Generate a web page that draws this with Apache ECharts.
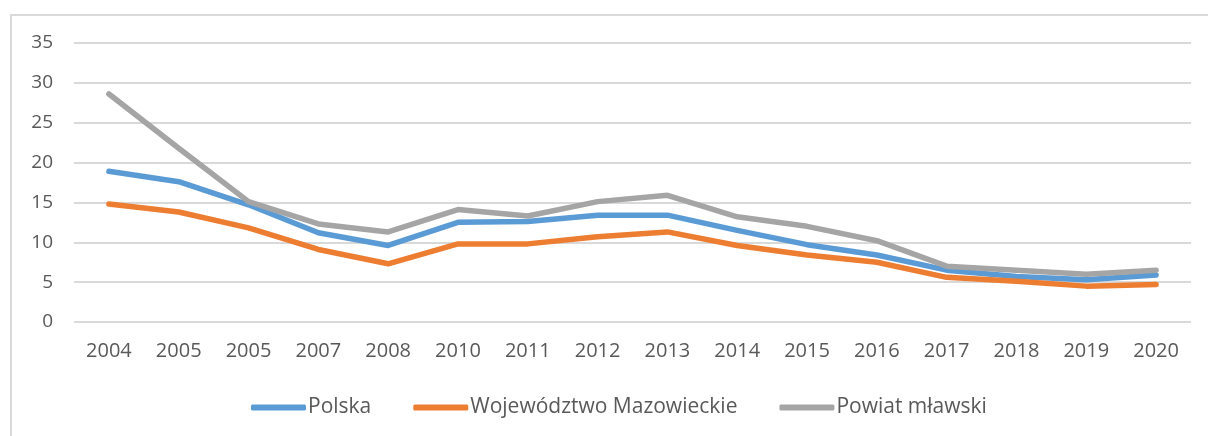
<!DOCTYPE html>
<html>
<head>
<meta charset="utf-8">
<script src="https://cdn.jsdelivr.net/npm/echarts@6/dist/echarts.min.js"></script>
<style>
  html, body { margin: 0; padding: 0; background: #fff; }
  #frame {
    position: absolute;
    left: 10px;
    top: 14px;
    width: 1220px;
    height: 440px;
    border: 2px solid #d9d9d9;
    box-sizing: border-box;
  }
  #chart { position: absolute; left: 0; top: 0; width: 1208px; height: 436px; }
</style>
</head>
<body>
<div id="frame"></div>
<div id="chart"></div>
<script>
// lata (etykiety osi X - tak jak w oryginale, z powtórzonym 2005)
const years = ['2004', '2005', '2005', '2007', '2008', '2010', '2011', '2012', '2013', '2014', '2015', '2016', '2017', '2018', '2019', '2020']

const polska = [18.9, 17.6, 14.7, 11.2, 9.6, 12.5, 12.6, 13.4, 13.4, 11.5, 9.7, 8.4, 6.5, 5.7, 5.3, 5.9]
const mazowieckie = [14.8, 13.8, 11.8, 9.1, 7.3, 9.8, 9.8, 10.7, 11.3, 9.6, 8.4, 7.5, 5.6, 5.1, 4.5, 4.7]
const mlawski = [28.6, 21.8, 15.1, 12.3, 11.3, 14.1, 13.3, 15.1, 15.9, 13.2, 12.0, 10.2, 7.0, 6.5, 6.0, 6.5]

const seriesNames = ['Polska', 'Województwo Mazowieckie', 'Powiat mławski']
const colors = ['#5b9bd5', '#ed7d31', '#a5a5a5']

const font = 'Open Sans'
const textColor = '#595959'

const chart = echarts.init(document.getElementById('chart'))

const makeLine = (name, data, color) => ({
  name,
  type: 'line',
  data,
  showSymbol: false,
  symbol: 'none',
  lineStyle: { width: 5.5, color, cap: 'round', join: 'round' },
  itemStyle: { color },
  animation: false
})

chart.setOption({
  animation: false,
  color: colors,
  grid: {
    left: 74,
    right: 17,
    top: 43,
    bottom: 114
  },
  legend: {
    data: seriesNames,
    left: 246,
    top: 392,
    icon: 'roundRect',
    itemWidth: 55,
    itemHeight: 6,
    itemGap: 42,
    textStyle: { fontFamily: font, fontSize: 21, color: textColor, padding: [0, 0, 0, -3] }
  },
  xAxis: {
    type: 'category',
    data: years,
    boundaryGap: true,
    axisLine: { show: false },
    axisTick: { show: false },
    axisLabel: {
      margin: 19,
      interval: 0,
      fontFamily: font,
      fontSize: 20,
      color: textColor
    }
  },
  yAxis: {
    type: 'value',
    min: 0,
    max: 35,
    interval: 5,
    axisLine: { show: false },
    axisTick: { show: false },
    splitLine: { lineStyle: { color: '#d9d9d9', width: 2 } },
    axisLabel: {
      margin: 21,
      fontFamily: font,
      fontSize: 19,
      color: textColor
    }
  },
  series: [
    makeLine(seriesNames[0], polska, colors[0]),
    makeLine(seriesNames[1], mazowieckie, colors[1]),
    makeLine(seriesNames[2], mlawski, colors[2])
  ]
})

window.addEventListener('resize', () => chart.resize())
</script>
</body>
</html>
